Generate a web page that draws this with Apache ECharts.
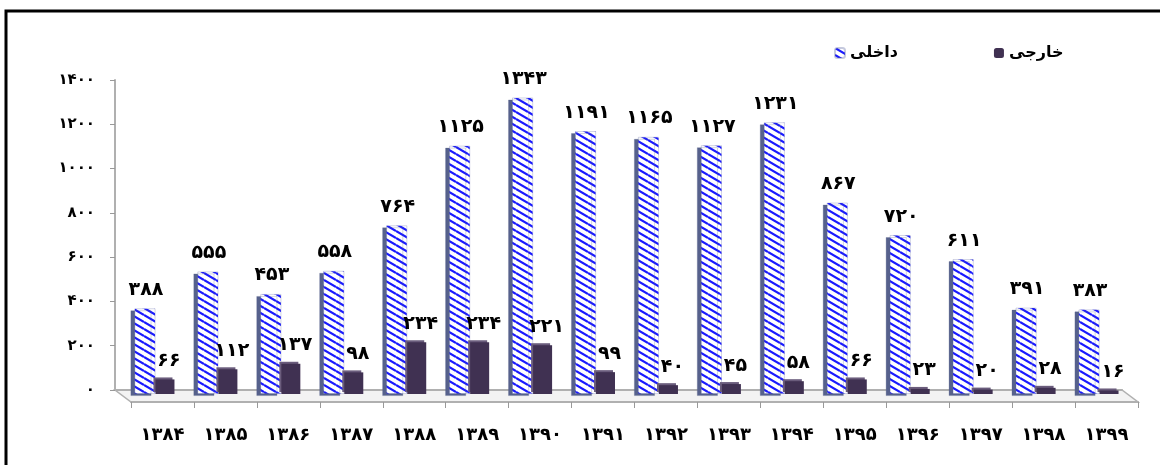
<!DOCTYPE html>
<html><head><meta charset="utf-8">
<script src="https://cdn.jsdelivr.net/npm/echarts@6/dist/echarts.min.js"></script>
<style>html,body{margin:0;padding:0;background:#fff}#c{width:1160px;height:465px}</style>
</head><body><div id="c"></div>
<script>
const categories = [1384,1385,1386,1387,1388,1389,1390,1391,1392,1393,1394,1395,1396,1397,1398,1399];
const domestic = [388,555,453,558,764,1125,1343,1191,1165,1127,1231,867,720,611,391,383];
const foreign = [66,112,137,98,234,234,221,99,40,45,58,66,23,20,28,16];
const seriesNames = ['داخلی','خارجی'];
const yTicks = [0,200,400,600,800,1000,1200,1400];

const fa = v => String(v).replace(/\d/g, d => '۰۱۲۳۴۵۶۷۸۹'[d]);
const FONT = '"DejaVu Sans", sans-serif';
const catLabels = categories.map(fa);

// diagonal stripe pattern tile
const tile = document.createElement('canvas');
tile.width = 12; tile.height = 7;
(function(){
  const c = tile.getContext('2d');
  c.fillStyle = '#ffffff'; c.fillRect(0,0,12,7);
  c.strokeStyle = '#1a1aff'; c.lineWidth = 2.2;
  for (let k=-1;k<=1;k++){ c.beginPath(); c.moveTo(0,k*7); c.lineTo(12,k*7+7); c.stroke(); }
})();

const chart = echarts.init(document.getElementById('c'));
const W = 1160, H = 465;
const g1 = {left:115, right:38, top:80, bottom:75};
const g2 = {left:131, right:22, top:80, bottom:63};
chart.setOption({
  animation:false,
  backgroundColor:'#fff',
  textStyle:{fontFamily:FONT},
  legend:{
    data:seriesNames, left:829, top:40, itemGap:96, itemWidth:10, itemHeight:10,
    textStyle:{fontFamily:FONT, fontWeight:'bold', fontSize:16, color:'#000'}
  },
  grid:[
    {left:123, right:30, top:85, bottom:71},
    g1, g2
  ],
  xAxis:[
    {gridIndex:0, type:'category', data:catLabels, show:false},
    {gridIndex:1, type:'category', data:catLabels, axisLine:{lineStyle:{color:'#b0b0b0', width:2}}, axisTick:{show:false}, axisLabel:{show:false}},
    {gridIndex:2, type:'category', data:catLabels,
      axisLine:{lineStyle:{color:'#b0b0b0', width:2}},
      axisTick:{show:true, length:6, lineStyle:{color:'#999'}},
      axisLabel:{margin:24, fontSize:18, fontWeight:'bold', color:'#000', fontFamily:FONT}}
  ],
  yAxis:[
    {gridIndex:0, type:'value', min:0, max:1400, show:false},
    {gridIndex:1, type:'value', min:0, max:1400, interval:200,
      axisLine:{show:true, lineStyle:{color:'#b0b0b0', width:2}},
      axisTick:{show:true, length:5, lineStyle:{color:'#999'}},
      splitLine:{show:false},
      axisLabel:{margin:20, fontSize:15, fontWeight:'bold', color:'#000', fontFamily:FONT, formatter:v=>fa(v)}},
    {gridIndex:2, type:'value', min:0, max:1400, show:false}
  ],
  graphic:[
    {type:'rect', shape:{x:6, y:11, width:1200, height:500}, style:{fill:'none', stroke:'#000', lineWidth:3}, z:100},
    {type:'polygon', shape:{points:[[g1.left, H-g1.bottom],[W-g1.right, H-g1.bottom],[W-g2.right, H-g2.bottom],[g2.left, H-g2.bottom]]},
      style:{fill:'#f3f3f3', stroke:'#b0b0b0', lineWidth:1.5}, z:-1}
  ],
  series:[
    {name:seriesNames[0], type:'bar', xAxisIndex:0, yAxisIndex:0, data:domestic,
      barWidth:21, barGap:'0%',
      itemStyle:{color:{image:tile, repeat:'repeat'}, borderColor:'rgba(90,100,160,0.35)', borderWidth:0.8,
        shadowColor:'#56618c', shadowOffsetX:-4, shadowOffsetY:2, shadowBlur:0},
      label:{show:true, position:'top', distance:9, offset:[1,0], fontSize:19, fontWeight:'bold', color:'#000', fontFamily:FONT, formatter:p=>fa(p.value)}
    },
    {name:seriesNames[1], type:'bar', xAxisIndex:0, yAxisIndex:0, data:foreign,
      barWidth:19, barGap:'0%',
      itemStyle:{color:'#403152', shadowColor:'#6a5c7c', shadowOffsetX:-2, shadowOffsetY:-2, shadowBlur:0},
      label:{show:true, position:'top', distance:9, offset:[4,0], fontSize:19, fontWeight:'bold', color:'#000', fontFamily:FONT, formatter:p=>fa(p.value)}
    }
  ]
});
</script></body></html>
